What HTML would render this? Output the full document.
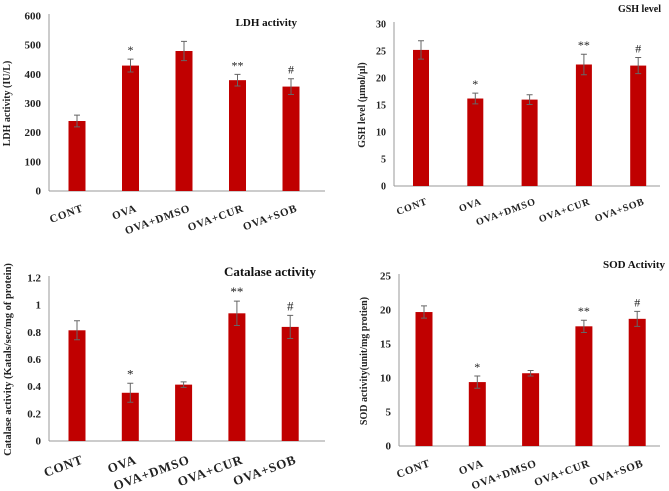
<!DOCTYPE html>
<html><head><meta charset="utf-8">
<style>
html,body{margin:0;padding:0;background:#fff;}
svg{display:block;font-family:"Liberation Serif",serif;}
</style></head>
<body>
<svg id="chart" width="669" height="491" viewBox="0 0 669 491" xmlns="http://www.w3.org/2000/svg"></svg>
<script>
const categories = ["CONT","OVA","OVA+DMSO","OVA+CUR","OVA+SOB"];
const ldhValues = [240,430,480,380,358];
const ldhErrors = [20,22,33,20,27];
const ldhTicks = [0,100,200,300,400,500,600];
const gshValues = [25.2,16.2,16.0,22.5,22.3];
const gshErrors = [1.7,1.0,0.9,1.9,1.5];
const gshTicks = [0,5,10,15,20,25,30];
const catValues = [0.815,0.355,0.415,0.94,0.84];
const catErrors = [0.07,0.07,0.02,0.09,0.085];
const catTicks = [0,0.2,0.4,0.6,0.8,1,1.2];
const sodValues = [19.7,9.4,10.7,17.6,18.7];
const sodErrors = [0.9,0.9,0.4,0.9,1.1];
const sodTicks = [0,5,10,15,20,25];
const marks = ["","*","","**","#"];

const svg = document.getElementById('chart');
const NS = "http://www.w3.org/2000/svg";
function mk(tag, attrs, text){
  const e = document.createElementNS(NS, tag);
  for (const k in attrs) e.setAttribute(k, attrs[k]);
  if (text !== undefined) e.textContent = text;
  svg.appendChild(e);
  return e;
}
function panel(p){
  const yScale = v => p.y0 - (v / p.max) * (p.y0 - p.yTop);
  const xScale = i => p.firstC + i * p.step;
  const ax = mk('line',{x1:p.x0,y1:p.yTop-2,x2:p.x0,y2:p.y0,stroke:'#999','stroke-width':1});
  
  
  const bx = mk('line',{x1:p.x0,y1:p.y0,x2:p.xEnd,y2:p.y0,stroke:'#999','stroke-width':1});
  
  
  p.ticks.forEach(t=>{
    const tl = mk('text',{x:p.x0-8,y:yScale(t)+3.5,'text-anchor':'end','font-size':p.tickFs,'font-weight':'bold',fill:'#222'}, String(t));
    
    
  });
  p.values.forEach((v,i)=>{
    const cx = xScale(i);
    const top = yScale(v);
    const b = mk('rect',{x:cx-p.bw/2,y:top,width:p.bw,height:p.y0-top,fill:'#c00000'});
    
    
    const e = p.errors[i];
    const yh = yScale(v+e), yl = yScale(v-e);
    const eb = mk('path',{d:`M${cx},${yh}V${yl}M${cx-3},${yh}H${cx+3}M${cx-3},${yl}H${cx+3}`,stroke:'#666','stroke-width':1,fill:'none'});
    
    
    if (marks[i]){
      const m = mk('text',{x:cx,y:yh-5,'text-anchor':'middle','font-size':p.markFs,fill:'#222'}, marks[i]);
      
      
    }
    const lx = cx+7, ly = p.y0 + p.labOff;
    const l = mk('text',{x:lx,y:ly,'text-anchor':'end','font-size':p.labFs,'font-weight':'bold','letter-spacing':'0.8',fill:'#222',transform:`rotate(-20 ${lx} ${ly})`}, categories[i]);
    
    
  });
  const ttl = mk('text',{x:p.titleX,y:p.titleY,'text-anchor':'end','font-size':p.titleFs,'font-weight':'bold',fill:'#111'}, p.title);
  
  
  const ymid = (p.y0+p.yTop)/2;
  const yt = mk('text',{x:p.ytX,y:ymid,'text-anchor':'middle','font-size':p.ytFs,'font-weight':'bold',fill:'#222',transform:`rotate(-90 ${p.ytX} ${ymid})`}, p.yTitle);
  
  
}
panel({id:'ldh',values:ldhValues,errors:ldhErrors,ticks:ldhTicks,max:600,x0:49,xEnd:325,yTop:16,y0:191,firstC:77,step:53.5,bw:17,tickFs:11,markFs:12,labFs:11,labOff:20,title:'LDH activity',titleX:297,titleY:26,titleFs:11,yTitle:'LDH activity (IU/L)',ytX:10,ytFs:10});
panel({id:'gsh',values:gshValues,errors:gshErrors,ticks:gshTicks,max:30,x0:394,xEnd:660,yTop:24,y0:186,firstC:421,step:54.3,bw:16,tickFs:10,markFs:12,labFs:10,labOff:18,title:'GSH level',titleX:661,titleY:12,titleFs:10,yTitle:'GSH level (µmol/µl)',ytX:365,ytFs:10});
panel({id:'catalase',values:catValues,errors:catErrors,ticks:catTicks,max:1.2,x0:49,xEnd:325,yTop:278,y0:441,firstC:77,step:53.3,bw:17,tickFs:11,markFs:13,labFs:13,labOff:22,title:'Catalase activity',titleX:316,titleY:276,titleFs:13,yTitle:'Catalase activity (Katals/sec/mg of protein)',ytX:11,ytFs:10.5});
panel({id:'sod',values:sodValues,errors:sodErrors,ticks:sodTicks,max:25,x0:399,xEnd:660,yTop:276,y0:446,firstC:424,step:53.3,bw:17,tickFs:11,markFs:12,labFs:11,labOff:20,title:'SOD Activity',titleX:665,titleY:268,titleFs:11,yTitle:'SOD activity(unit/mg protien)',ytX:367,ytFs:10});
</script>
</body></html>
